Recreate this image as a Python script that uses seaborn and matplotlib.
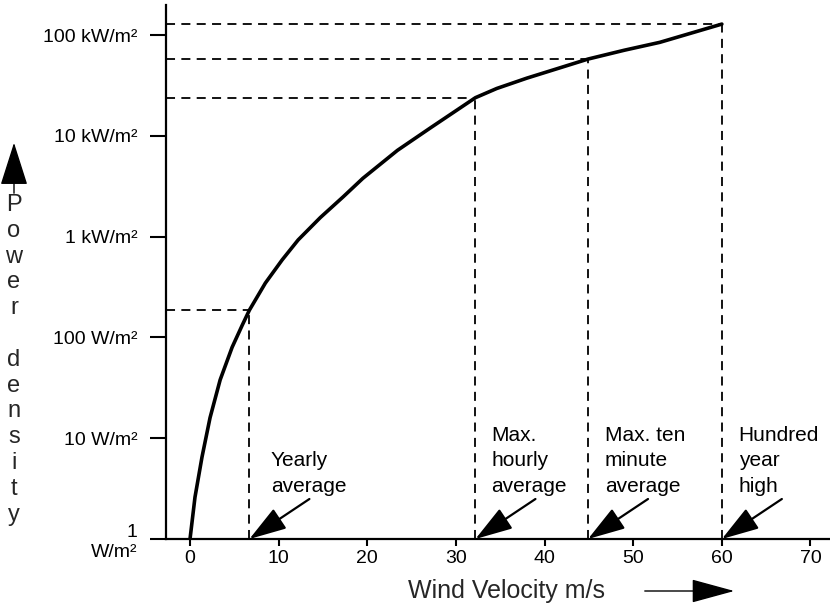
import numpy as np
import pandas as pd
import matplotlib
matplotlib.use("Agg")
import matplotlib.pyplot as plt
import seaborn as sns

# curve (wind velocity m/s, power density W/m2)
velocity = [0, 0.56, 1.35, 2.26, 3.4, 4.75, 5.9, 6.7, 8.5, 10.4, 12.2,
            14.7, 17.3, 19.5, 23.4, 27.1, 32.2, 34.6, 38.0, 44.9, 49.0, 53.0, 60.0]
power = [1, 2.6, 6.5, 16, 38, 80, 133, 187, 347, 590, 930,
         1550, 2500, 3800, 7200, 12000, 24000, 29600, 37500, 58000, 71000, 85000, 129000]

# marked events
event_v = [6.7, 32.2, 44.9, 60.0]
event_p = [187, 24000, 58000, 129000]
event_labels = ["Yearly\naverage", "Max.\nhourly\naverage",
                "Max. ten\nminute\naverage", "Hundred\nyear\nhigh"]
event_text_x = [9.1, 34.0, 46.8, 61.9]

y_ticks = [1, 10, 100, 1e3, 1e4, 1e5]
y_ticklabels = ["1\nW/m²", "10 W/m²", "100 W/m²", "1 kW/m²", "10 kW/m²", "100 kW/m²"]
x_ticks = [0, 10, 20, 30, 40, 50, 60, 70]

df = pd.DataFrame({"v": velocity, "p": power})

sns.set_theme(style="ticks")
plt.rcParams["font.family"] = ["Liberation Sans", "DejaVu Sans"]

fig = plt.figure(figsize=(8.3, 6.09), dpi=100)
ax = fig.add_axes([166 / 830, 1 - 539 / 609, 1 - 166 / 830, (539 - 5) / 609])

XMIN, XMAX = -2.71, 72.2
ax.set_yscale("log")
ax.set_xlim(XMIN, XMAX)
ax.set_ylim(1, 10 ** 5.30)

sns.lineplot(data=df, x="v", y="p", color="black", linewidth=2.6,
             estimator=None, ax=ax, zorder=3)

dash = (0, (5, 3.5))
for v, p in zip(event_v, event_p):
    ax.plot([XMIN, v], [p, p], color="black", lw=1.3, linestyle=dash, zorder=2)
    ax.plot([v, v], [1, p], color="black", lw=1.3, linestyle=dash, zorder=2)

for v, lab, tx in zip(event_v, event_labels, event_text_x):
    ax.annotate("", xy=(v, 1), xytext=(60, 40), textcoords="offset pixels",
                arrowprops=dict(arrowstyle="-|>,head_length=1.0,head_width=0.32",
                                mutation_scale=23, color="black", lw=1.6,
                                shrinkA=0, shrinkB=0), zorder=4)
    ax.text(tx, 10 ** ((539 - 492) / 100.8), lab, fontsize=15, ha="left",
            va="baseline", linespacing=1.45, color="black")

ax.set_yticks(y_ticks)
ax.set_yticklabels(y_ticklabels, fontsize=14)
ax.set_xticks(x_ticks)
ax.set_xticklabels([str(t) for t in x_ticks], fontsize=14)
ax.minorticks_off()
ax.tick_params(axis="y", direction="out", length=11.5, width=1.5, pad=9, colors="black")
ax.tick_params(axis="x", direction="out", length=5, width=1.5, pad=3, colors="black")

sns.despine(ax=ax)
for s in ["left", "bottom"]:
    ax.spines[s].set_linewidth(1.6)
    ax.spines[s].set_color("black")

ax.set_xlabel("")
ax.set_ylabel("")

# x axis title with arrow
fig.text(408 / 830, 1 - 598 / 609, "Wind Velocity m/s", fontsize=18,
         ha="left", va="baseline")
fig.add_artist(matplotlib.patches.FancyArrowPatch(
    (642 / 830, 1 - 591 / 609), (737 / 830, 1 - 591 / 609),
    transform=fig.transFigure, arrowstyle="-|>,head_length=1.1,head_width=0.3",
    mutation_scale=25, color="black", lw=1.0))

# stacked y axis title with arrow
letters = list("Power") + [""] + list("density")
for i, ch in enumerate(letters):
    fig.text(14 / 830, 1 - (205 + 25.8 * i) / 609, ch, fontsize=17,
             ha="center", va="center")
fig.add_artist(matplotlib.patches.FancyArrowPatch(
    (14 / 830, 1 - 196 / 609), (14 / 830, 1 - 140 / 609),
    transform=fig.transFigure, arrowstyle="-|>,head_length=1.1,head_width=0.35",
    mutation_scale=25, color="black", lw=1.0))

fig.savefig("out.png", dpi=100, facecolor="white")
